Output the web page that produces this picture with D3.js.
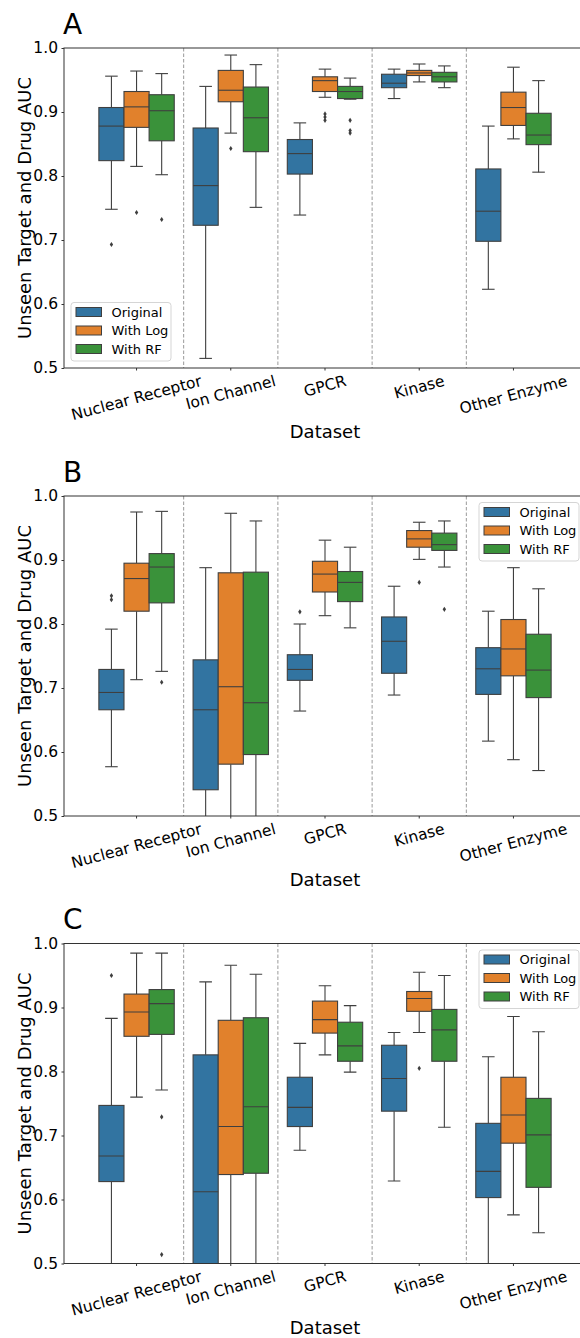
<!DOCTYPE html>
<html>
<head>
<meta charset="utf-8">
<title>AUC boxplots</title>
<script src="https://d3js.org/d3.v7.min.js"></script>
<style>
  body { margin: 0; background: #fff; }
  svg { display: block; font-family: "DejaVu Sans", sans-serif; }
</style>
</head>
<body>
<script>
// ---- data ----
var categories = ["Nuclear Receptor", "Ion Channel", "GPCR", "Kinase", "Other Enzyme"];
var seriesNames = ["Original", "With Log", "With RF"];
var seriesColors = ["#3274a1", "#e1812c", "#3a923a"];
var yTicks = [0.5, 0.6, 0.7, 0.8, 0.9, 1.0];
var panelLabels = ["A", "B", "C"];

// each row: [low whisker, q1, median, q3, high whisker], one row per category
var aOriginal = [[0.748, 0.824, 0.878, 0.907, 0.956], [0.515, 0.723, 0.785, 0.875, 0.940], [0.739, 0.803, 0.835, 0.857, 0.883], [0.921, 0.938, 0.945, 0.959, 0.967], [0.623, 0.698, 0.745, 0.811, 0.878]];
var aLog      = [[0.815, 0.876, 0.908, 0.932, 0.964], [0.867, 0.916, 0.934, 0.965, 0.989], [0.923, 0.932, 0.949, 0.955, 0.967], [0.947, 0.957, 0.961, 0.965, 0.975], [0.858, 0.879, 0.907, 0.931, 0.970]];
var aRF       = [[0.802, 0.855, 0.902, 0.927, 0.960], [0.751, 0.838, 0.891, 0.939, 0.974], [0.920, 0.921, 0.932, 0.940, 0.953], [0.938, 0.947, 0.955, 0.962, 0.972], [0.806, 0.849, 0.864, 0.898, 0.949]];
// [category, series, value]
var aOutliers = [[0, 0, 0.693], [0, 1, 0.743], [0, 2, 0.732], [1, 1, 0.843], [2, 1, 0.897], [2, 1, 0.892], [2, 1, 0.887], [2, 2, 0.887], [2, 2, 0.871], [2, 2, 0.867]];

var bOriginal = [[0.577, 0.666, 0.693, 0.729, 0.792], [0.40, 0.541, 0.666, 0.744, 0.888], [0.664, 0.712, 0.729, 0.752, 0.800], [0.689, 0.723, 0.773, 0.811, 0.859], [0.617, 0.690, 0.730, 0.763, 0.820]];
var bLog      = [[0.713, 0.820, 0.871, 0.895, 0.975], [0.40, 0.581, 0.702, 0.880, 0.973], [0.813, 0.850, 0.878, 0.898, 0.931], [0.901, 0.920, 0.933, 0.946, 0.959], [0.588, 0.719, 0.761, 0.807, 0.888]];
var bRF       = [[0.726, 0.833, 0.889, 0.910, 0.976], [0.42, 0.596, 0.677, 0.881, 0.961], [0.794, 0.835, 0.865, 0.882, 0.920], [0.889, 0.915, 0.924, 0.942, 0.961], [0.571, 0.685, 0.728, 0.784, 0.855]];
var bOutliers = [[0, 0, 0.844], [0, 0, 0.838], [0, 2, 0.709], [2, 0, 0.819], [3, 1, 0.865], [3, 2, 0.823]];

var cOriginal = [[0.45, 0.628, 0.668, 0.747, 0.883], [0.30, 0.45, 0.612, 0.826, 0.940], [0.677, 0.714, 0.744, 0.791, 0.844], [0.629, 0.738, 0.789, 0.841, 0.861], [0.45, 0.603, 0.644, 0.719, 0.823]];
var cLog      = [[0.760, 0.855, 0.893, 0.921, 0.985], [0.42, 0.639, 0.714, 0.880, 0.966], [0.826, 0.860, 0.881, 0.910, 0.934], [0.861, 0.894, 0.914, 0.925, 0.955], [0.576, 0.688, 0.732, 0.791, 0.886]];
var cRF       = [[0.771, 0.858, 0.906, 0.928, 0.985], [0.45, 0.641, 0.745, 0.884, 0.952], [0.799, 0.816, 0.840, 0.877, 0.903], [0.713, 0.816, 0.865, 0.897, 0.950], [0.548, 0.619, 0.701, 0.758, 0.862]];
var cOutliers = [[0, 0, 0.950], [0, 2, 0.729], [0, 2, 0.514], [3, 1, 0.805]];

var panels = [
  { stats: [aOriginal, aLog, aRF], outliers: aOutliers, top: 48, legend: "lower left" },
  { stats: [bOriginal, bLog, bRF], outliers: bOutliers, top: 496, legend: "upper right" },
  { stats: [cOriginal, cLog, cRF], outliers: cOutliers, top: 943.5, legend: "upper right" }
];

// ---- layout ----
var W = 580, H = 1338;
var left = 64, right = 586, plotH = 320;
var lineGray = "#3f3f3f";

var svg = d3.select("body").append("svg")
  .attr("width", W)
  .attr("height", H);

var x = d3.scaleLinear().domain([-0.77, 4.77]).range([left, right]);
var boxW = x(0.8 / 3) - x(0);

panels.forEach(function (p, pi) {
  var y = d3.scaleLinear().domain([0.5, 1.0]).range([p.top + plotH, p.top]);
  var g = svg.append("g");

  var clipId = "clip" + pi;
  g.append("clipPath").attr("id", clipId)
    .append("rect")
    .attr("x", left).attr("y", p.top)
    .attr("width", right - left).attr("height", plotH);

  var plot = g.append("g").attr("clip-path", "url(#" + clipId + ")");

  // dashed separators between datasets
  plot.selectAll("line.sep")
    .data(d3.range(categories.length - 1))
    .enter().append("line")
    .attr("class", "sep")
    .attr("x1", function (d) { return x(d + 0.5); })
    .attr("x2", function (d) { return x(d + 0.5); })
    .attr("y1", p.top).attr("y2", p.top + plotH)
    .attr("stroke", "#9a9a9a")
    .attr("stroke-width", 1)
    .attr("stroke-dasharray", "3.5,2");

  p.stats.forEach(function (rows, si) {
    var offset = (si - 1) * (0.8 / 3);
    var sg = plot.selectAll("g.s" + si)
      .data(rows)
      .enter().append("g");

    var cx = function (d, i) { return x(i + offset); };

    // whiskers
    sg.append("line")
      .attr("x1", cx).attr("x2", cx)
      .attr("y1", function (d) { return y(d[3]); })
      .attr("y2", function (d) { return y(d[4]); })
      .attr("stroke", lineGray).attr("stroke-width", 1.1);
    sg.append("line")
      .attr("x1", cx).attr("x2", cx)
      .attr("y1", function (d) { return y(d[1]); })
      .attr("y2", function (d) { return y(d[0]); })
      .attr("stroke", lineGray).attr("stroke-width", 1.1);
    // caps
    [0, 4].forEach(function (k) {
      sg.append("line")
        .attr("x1", function (d, i) { return cx(d, i) - boxW / 4; })
        .attr("x2", function (d, i) { return cx(d, i) + boxW / 4; })
        .attr("y1", function (d) { return y(d[k]); })
        .attr("y2", function (d) { return y(d[k]); })
        .attr("stroke", lineGray).attr("stroke-width", 1.1);
    });
    // box
    sg.append("rect")
      .attr("x", function (d, i) { return cx(d, i) - boxW / 2; })
      .attr("y", function (d) { return y(d[3]); })
      .attr("width", boxW)
      .attr("height", function (d) { return y(d[1]) - y(d[3]); })
      .attr("fill", seriesColors[si])
      .attr("stroke", lineGray).attr("stroke-width", 1.1);
    // median
    sg.append("line")
      .attr("x1", function (d, i) { return cx(d, i) - boxW / 2; })
      .attr("x2", function (d, i) { return cx(d, i) + boxW / 2; })
      .attr("y1", function (d) { return y(d[2]); })
      .attr("y2", function (d) { return y(d[2]); })
      .attr("stroke", lineGray).attr("stroke-width", 1.1);
  });

  // outliers as small diamonds
  plot.selectAll("path.out")
    .data(p.outliers)
    .enter().append("path")
    .attr("class", "out")
    .attr("d", "M0,-2.6L1.7,0L0,2.6L-1.7,0Z")
    .attr("transform", function (d) {
      return "translate(" + x(d[0] + (d[1] - 1) * (0.8 / 3)) + "," + y(d[2]) + ")";
    })
    .attr("fill", lineGray);

  // frame
  g.append("rect")
    .attr("x", left).attr("y", p.top)
    .attr("width", right - left).attr("height", plotH)
    .attr("fill", "none").attr("stroke", "#333").attr("stroke-width", 1);

  // y axis
  var yAxis = d3.axisLeft(y).tickValues(yTicks).tickSize(2.5).tickPadding(3.5)
    .tickFormat(d3.format(".1f"));
  var ya = g.append("g").attr("transform", "translate(" + left + ",0)").call(yAxis);
  ya.select(".domain").remove();
  ya.selectAll("line").attr("stroke", "#333");
  ya.selectAll("text").attr("font-size", 15.5).attr("fill", "#000")
    .attr("font-family", "DejaVu Sans");

  // x axis ticks
  var bottom = p.top + plotH;
  g.selectAll("line.xt")
    .data(categories)
    .enter().append("line")
    .attr("x1", function (d, i) { return x(i); })
    .attr("x2", function (d, i) { return x(i); })
    .attr("y1", bottom).attr("y2", bottom + 2.5)
    .attr("stroke", "#333");

  // rotated category labels (top of rotated box sits just under the axis)
  g.selectAll("text.xl")
    .data(categories)
    .enter().append("text")
    .attr("class", "xl")
    .attr("font-size", 15.5)
    .attr("text-anchor", "middle")
    .attr("dominant-baseline", "central")
    .text(function (d) { return d; })
    .each(function (d, i) {
      var w = this.getComputedTextLength();
      var h = 18;
      var a = 15 * Math.PI / 180;
      var rh = w * Math.sin(a) + h * Math.cos(a);
      var cy = bottom + 4 + rh / 2;
      d3.select(this)
        .attr("x", x(i)).attr("y", cy)
        .attr("transform", "rotate(-15," + x(i) + "," + cy + ")");
    });

  // axis titles
  g.append("text")
    .attr("x", (left + right) / 2).attr("y", bottom + 70)
    .attr("text-anchor", "middle")
    .attr("font-size", 18)
    .text("Dataset");

  g.append("text")
    .attr("transform", "translate(31," + (p.top + plotH / 2) + ") rotate(-90)")
    .attr("text-anchor", "middle")
    .attr("font-size", 18)
    .text("Unseen Target and Drug AUC");

  // panel letter
  g.append("text")
    .attr("x", left - 1).attr("y", p.top - 14.5)
    .attr("font-size", 28)
    .text(panelLabels[pi]);

  // legend
  var lw = 100, lh = 58.5;
  var lx = p.legend === "lower left" ? left + 7 : right - 7 - lw;
  var ly = p.legend === "lower left" ? bottom - 7 - lh : p.top + 6.5;
  var lg = g.append("g").attr("transform", "translate(" + lx + "," + ly + ")");
  lg.append("rect")
    .attr("width", lw).attr("height", lh).attr("rx", 3)
    .attr("fill", "#fff").attr("fill-opacity", 0.85)
    .attr("stroke", "#d5d5d5").attr("stroke-width", 1);
  var items = lg.selectAll("g.item")
    .data(seriesNames)
    .enter().append("g")
    .attr("transform", function (d, i) { return "translate(0," + (9.5 + i * 18.5) + ")"; });
  items.append("rect")
    .attr("x", 5).attr("y", -4.5)
    .attr("width", 25.5).attr("height", 9)
    .attr("fill", function (d, i) { return seriesColors[i]; })
    .attr("stroke", lineGray).attr("stroke-width", 1);
  items.append("text")
    .attr("x", 40.5).attr("y", 0)
    .attr("dominant-baseline", "central")
    .attr("font-size", 13)
    .text(function (d) { return d; });
});
</script>
</body>
</html>
